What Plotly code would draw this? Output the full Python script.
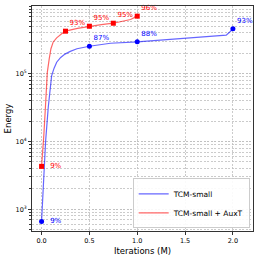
import plotly.graph_objects as go

# Curve samples (Iterations in M, Energy)
blue_x = [0, 0.02, 0.042, 0.07, 0.098, 0.105, 0.13, 0.158, 0.2, 0.245, 0.3, 0.37, 0.5,
          0.72, 1.0, 1.35, 1.7, 1.93, 1.97, 2.0]
blue_y = [660, 2800, 10000, 32000, 76000, 93000, 120000, 148000, 174000, 195000, 214000,
          234000, 255000, 282000, 296000, 324000, 351000, 372000, 417000, 461000]

red_x = [0, 0.012, 0.024, 0.04, 0.053, 0.06, 0.08, 0.098, 0.122, 0.158, 0.21, 0.25, 0.375,
         0.5, 0.625, 0.75, 0.85, 0.93, 1.0]
red_y = [4300, 7100, 12600, 31600, 67600, 105000, 166000, 234000, 295000, 339000, 389000,
         425000, 468000, 503000, 531000, 557000, 589000, 631000, 708000]

# Marked checkpoints and success-rate labels
blue_mx = [0, 0.5, 1.0, 2.0]
blue_my = [660, 255000, 296000, 461000]
blue_lbl = ["9%", "87%", "88%", "93%"]

red_mx = [0, 0.25, 0.5, 0.75, 1.0]
red_my = [4300, 425000, 503000, 557000, 708000]
red_lbl = ["9%", "93%", "95%", "95%", "96%"]

x_ticks = [0.0, 0.5, 1.0, 1.5, 2.0]
y_ticks = [1000, 10000, 100000]
y_ticktext = ["10<sup>3</sup>", "10<sup>4</sup>", "10<sup>5</sup>"]

BLUE = "rgba(0,0,255,0.6)"
RED = "rgba(255,0,0,0.6)"
FONT = "DejaVu Sans"
GRID = "rgba(190,190,190,0.8)"

fig = go.Figure()
fig.add_trace(go.Scatter(x=blue_x, y=blue_y, mode="lines", name="TCM-small",
                         line=dict(color=BLUE, width=1.2)))
fig.add_trace(go.Scatter(x=red_x, y=red_y, mode="lines", name="TCM-small + AuxT",
                         line=dict(color=RED, width=1.2)))
fig.add_trace(go.Scatter(x=blue_mx, y=blue_my, mode="markers+text", showlegend=False,
                         marker=dict(color="blue", size=5, symbol="circle"),
                         text=["  " + t if i == 0 else t for i, t in enumerate(blue_lbl)],
                         textposition=["middle right"] + ["top right"] * 3,
                         textfont=dict(color="blue", size=7, family=FONT),
                         cliponaxis=False))
fig.add_trace(go.Scatter(x=red_mx, y=red_my, mode="markers+text", showlegend=False,
                         marker=dict(color="red", size=5, symbol="square"),
                         text=["  " + t if i == 0 else t for i, t in enumerate(red_lbl)],
                         textposition=["middle right"] + ["top right"] * 4,
                         textfont=dict(color="red", size=7, family=FONT),
                         cliponaxis=False))

grid = dict(gridcolor=GRID, griddash="2px,1.5px", gridwidth=0.7)

fig.update_xaxes(range=[-0.1, 2.21], tickvals=x_ticks, tickformat=".1f", automargin=False,
                 showline=True, linecolor="#333", linewidth=1, mirror=True,
                 ticks="outside", ticklen=3, tickcolor="#333",
                 title=dict(text="Iterations (M)", font=dict(size=8.5, family=FONT, color="black"), standoff=4),
                 tickfont=dict(size=6.5, family=FONT, color="black"),
                 showgrid=True, zeroline=False, **grid)
fig.update_yaxes(type="log", range=[2.68, 6.0], tickvals=y_ticks, ticktext=y_ticktext,
                 automargin=False,
                 showline=True, linecolor="#333", linewidth=1, mirror=True,
                 ticks="outside", ticklen=3, tickcolor="#333",
                 title=dict(text="Energy", font=dict(size=8.5, family=FONT, color="black"), standoff=2),
                 tickfont=dict(size=6.5, family=FONT, color="black"),
                 showgrid=True, zeroline=False,
                 minor=dict(dtick="D1", showgrid=True, ticks="outside", ticklen=2,
                            tickcolor="#333", gridcolor=GRID,
                            griddash="2px,1.5px", gridwidth=0.7),
                 **grid)

fig.update_layout(
    width=259, height=259,
    margin=dict(l=32, r=6, t=6, b=28, autoexpand=False),
    paper_bgcolor="white", plot_bgcolor="white",
    font=dict(family=FONT, size=7, color="black"),
    legend=dict(x=0.985, y=0.012, xanchor="right", yanchor="bottom",
                bgcolor="rgba(255,255,255,0.9)", bordercolor="#ccc", borderwidth=1,
                font=dict(size=7.5, family=FONT), itemwidth=30, tracegroupgap=0),
)

fig.write_html("out.html", config={"displayModeBar": False},
               post_script="document.body.style.margin='0';document.body.style.padding='0';")
